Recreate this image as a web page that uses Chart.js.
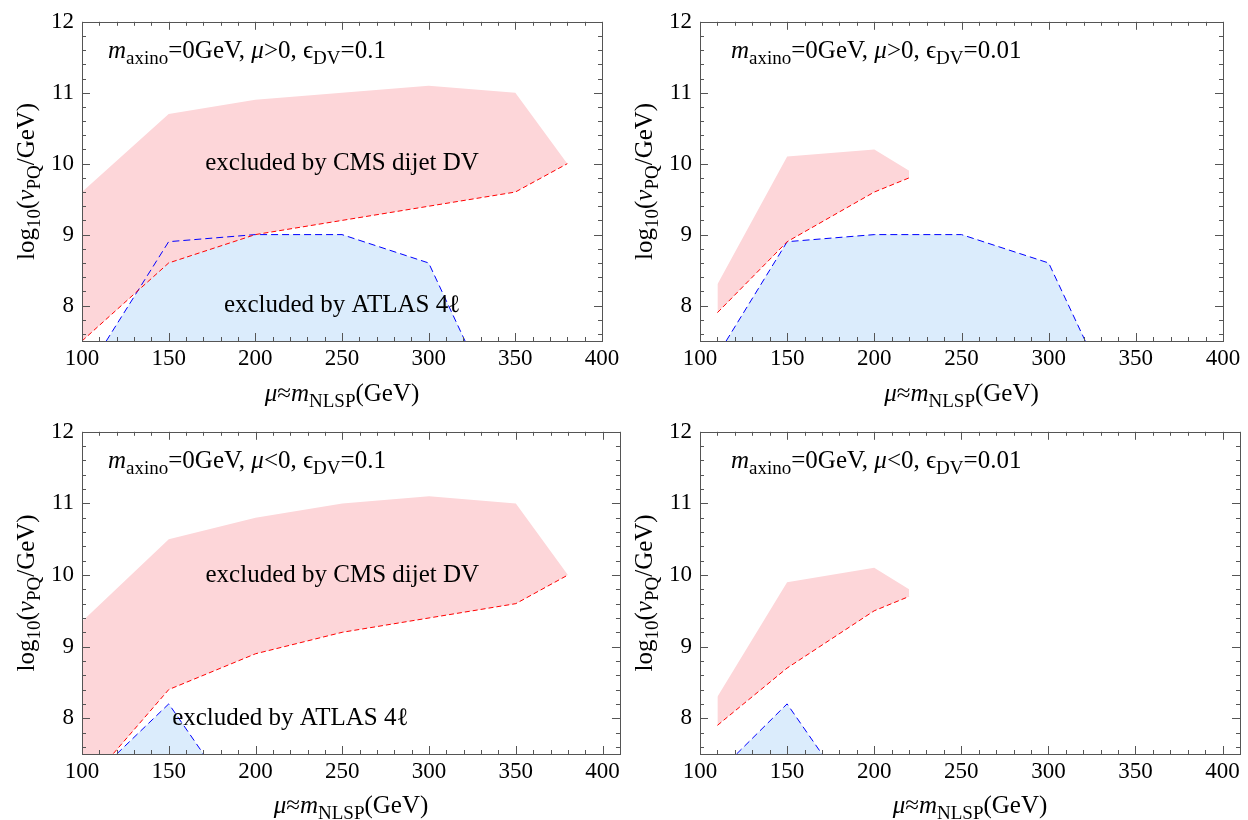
<!DOCTYPE html>
<html><head><meta charset="utf-8">
<script src="https://cdn.jsdelivr.net/npm/chart.js@4.4.1/dist/chart.umd.min.js"></script>
<style>
html,body{margin:0;padding:0;background:#fff;}
#wrap{position:relative;width:1248px;height:820px;overflow:hidden;}
canvas{position:absolute;}
</style></head><body><div id="wrap">
<canvas id="c0" width="624" height="410" style="left:0;top:0"></canvas>
<canvas id="c1" width="624" height="410" style="left:624px;top:0"></canvas>
<canvas id="c2" width="624" height="410" style="left:0;top:410px"></canvas>
<canvas id="c3" width="624" height="410" style="left:624px;top:410px"></canvas>
</div>
<script>
// ---- tick labels ----
const xTickLabels = [100, 150, 200, 250, 300, 350, 400];
const yTickLabels = [8, 9, 10, 11, 12];

// ---- Panel A: mu>0, eps=0.1 ----
const cmsUpperA_x = [100, 150, 200, 250, 300, 350, 380];
const cmsUpperA_y = [9.6, 10.7, 10.9, 11.0, 11.1, 11.0, 10.0];
const cmsLowerA_x = [100, 150, 200, 250, 300, 350, 380];
const cmsLowerA_y = [7.5, 8.6, 9.0, 9.2, 9.4, 9.6, 10.0];
const atlasA_x = [114, 150, 200, 250, 300, 321];
const atlasA_y = [7.5, 8.9, 9.0, 9.0, 8.6, 7.5];

// ---- Panel B: mu>0, eps=0.01 ----
const cmsUpperB_x = [110, 150, 200, 220];
const cmsUpperB_y = [8.3, 10.1, 10.2, 9.9];
const cmsLowerB_x = [110, 150, 200, 220];
const cmsLowerB_y = [7.9, 8.9, 9.6, 9.8];
const atlasB_x = [115, 150, 200, 250, 300, 321];
const atlasB_y = [7.5, 8.9, 9.0, 9.0, 8.6, 7.5];

// ---- Panel C: mu<0, eps=0.1 ----
const cmsUpperC_x = [100, 150, 200, 250, 300, 350, 380];
const cmsUpperC_y = [9.35, 10.5, 10.8, 11.0, 11.1, 11.0, 10.0];
const cmsLowerC_x = [100, 150, 200, 250, 300, 350, 380];
const cmsLowerC_y = [7.0, 8.4, 8.9, 9.2, 9.4, 9.6, 10.0];
const atlasC_x = [120, 150, 170];
const atlasC_y = [7.5, 8.2, 7.5];

// ---- Panel D: mu<0, eps=0.01 ----
const cmsUpperD_x = [110, 150, 200, 220];
const cmsUpperD_y = [8.3, 9.9, 10.1, 9.8];
const cmsLowerD_x = [110, 150, 200, 220];
const cmsLowerD_y = [7.9, 8.7, 9.5, 9.7];
const atlasD_x = [121, 150, 170];
const atlasD_y = [7.5, 8.2, 7.5];

// ---- annotation texts ----
const titleA = [['m','i'],['axino','s'],['=0GeV, ','n'],['\u03BC','i'],['>0, ','n'],['\u03F5','n'],['DV','s'],['=0.1','n']];
const titleB = [['m','i'],['axino','s'],['=0GeV, ','n'],['\u03BC','i'],['>0, ','n'],['\u03F5','n'],['DV','s'],['=0.01','n']];
const titleC = [['m','i'],['axino','s'],['=0GeV, ','n'],['\u03BC','i'],['<0, ','n'],['\u03F5','n'],['DV','s'],['=0.1','n']];
const titleD = [['m','i'],['axino','s'],['=0GeV, ','n'],['\u03BC','i'],['<0, ','n'],['\u03F5','n'],['DV','s'],['=0.01','n']];
const yTitle = [['log','n'],['10','s'],['(','n'],['\u03BD','i'],['PQ','s'],['/GeV)','n']];
const xTitle = [['\u03BC','i'],['\u2248','n'],['m','i'],['NLSP','s'],['(GeV)','n']];
const cmsLabel = 'excluded by CMS dijet DV';
const atlasLabel = 'excluded by ATLAS 4\u2113';

const FONT = '"Liberation Serif", "DejaVu Serif", serif';
const PINK = 'rgb(253,214,217)';
const LBLUE = 'rgb(219,236,252)';

function zip(xs, ys) { return xs.map((x, i) => ({x: x, y: ys[i]})); }

function fontFor(type, size) {
  const sub = type === 's';
  const it = type === 'i';
  const sz = sub ? Math.round(size * 0.76) : size;
  return (it ? 'italic ' : '') + sz + 'px ' + FONT;
}
function richWidth(ctx, parts, size) {
  let w = 0;
  for (const [t, ty] of parts) { ctx.font = fontFor(ty, size); w += ctx.measureText(t).width; }
  return w;
}
function drawRich(ctx, parts, x, y, size, align) {
  let cx = x;
  if (align === 'center') cx = x - richWidth(ctx, parts, size) / 2;
  ctx.textBaseline = 'alphabetic';
  ctx.textAlign = 'left';
  ctx.fillStyle = '#000';
  for (const [t, ty] of parts) {
    ctx.font = fontFor(ty, size);
    const dy = ty === 's' ? size * 0.24 : 0;
    ctx.fillText(t, cx, y + dy);
    cx += ctx.measureText(t).width;
  }
}

function makePanel(id, p) {
  const W = 624, H = 410;
  const decor = {
    id: 'decor' + id,
    afterDraw(chart) {
      const ctx = chart.ctx;
      const a = chart.chartArea;
      const xs = chart.scales.x, ys = chart.scales.y;
      ctx.save();
      // frame
      ctx.strokeStyle = '#555';
      ctx.lineWidth = 1;
      ctx.strokeRect(Math.round(a.left) + 0.5, Math.round(a.top) + 0.5, Math.round(a.right - a.left), Math.round(a.bottom - a.top));
      // ticks
      ctx.beginPath();
      for (let v = 100; v <= p.xmax; v += 10) {
        const px = Math.round(xs.getPixelForValue(v)) + 0.5;
        const len = (v % 50 === 0) ? 8 : 4;
        ctx.moveTo(px, a.bottom); ctx.lineTo(px, a.bottom - len);
        ctx.moveTo(px, a.top); ctx.lineTo(px, a.top + len);
      }
      for (let k = 38; k <= 60; k++) {
        const v = k / 5;
        const py = Math.round(ys.getPixelForValue(v)) + 0.5;
        const len = (k % 5 === 0) ? 8 : 4;
        ctx.moveTo(a.left, py); ctx.lineTo(a.left + len, py);
        ctx.moveTo(a.right, py); ctx.lineTo(a.right - len, py);
      }
      ctx.stroke();
      // panel annotation
      drawRich(ctx, p.title, a.left + p.titleDx, a.top + 36, 25, 'left');
      // region labels
      ctx.font = '25px ' + FONT;
      ctx.fillStyle = '#000';
      ctx.textAlign = 'center';
      ctx.textBaseline = 'middle';
      if (p.cmsPos) ctx.fillText(cmsLabel, xs.getPixelForValue(p.cmsPos[0]), ys.getPixelForValue(p.cmsPos[1]));
      if (p.atlasPos) ctx.fillText(atlasLabel, xs.getPixelForValue(p.atlasPos[0]), ys.getPixelForValue(p.atlasPos[1]));
      // axis titles
      drawRich(ctx, xTitle, (a.left + a.right) / 2, p.xTitleY, 25, 'center');
      ctx.save();
      ctx.translate(a.left - 48, (a.top + a.bottom) / 2);
      ctx.rotate(-Math.PI / 2);
      drawRich(ctx, yTitle, 0, 0, 25, 'center');
      ctx.restore();
      ctx.restore();
    }
  };
  return new Chart(document.getElementById(id), {
    type: 'line',
    data: {
      datasets: [
        { data: zip(p.up[0], p.up[1]), borderWidth: 0, borderColor: 'rgba(0,0,0,0)', backgroundColor: PINK, fill: '+1', pointRadius: 0, tension: 0, order: 4 },
        { data: zip(p.lo[0], p.lo[1]), borderWidth: 1, borderColor: 'rgb(255,0,0)', borderDash: [5, 3], fill: false, pointRadius: 0, tension: 0, order: 1 },
        { data: zip(p.at[0], p.at[1]), borderWidth: 0, borderColor: 'rgba(0,0,0,0)', backgroundColor: LBLUE, fill: 'start', pointRadius: 0, tension: 0, order: 5 },
        { data: zip(p.at[0], p.at[1]), borderWidth: 1, borderColor: 'rgb(0,0,255)', borderDash: [7, 4], fill: false, pointRadius: 0, tension: 0, order: 2 }
      ]
    },
    options: {
      responsive: false,
      animation: false,
      devicePixelRatio: 1,
      layout: { padding: { left: 0, top: p.top, right: W - p.right, bottom: 0 } },
      plugins: { legend: { display: false }, tooltip: { enabled: false } },
      elements: { line: { borderCapStyle: 'butt' } },
      scales: {
        x: {
          type: 'linear', min: 100, max: p.xmax,
          grid: { display: false, drawTicks: false },
          border: { display: false },
          ticks: { autoSkip: false, maxRotation: 0, padding: 4, color: '#000', font: { family: FONT, size: 23 } },
          afterBuildTicks: (ax) => { ax.ticks = xTickLabels.map(v => ({ value: v })); },
          afterFit: (ax) => { ax.height = H - p.bottom; }
        },
        y: {
          type: 'linear', min: 7.5, max: 12,
          grid: { display: false, drawTicks: false },
          border: { display: false },
          ticks: { autoSkip: false, padding: 8, color: '#000', font: { family: FONT, size: 23 } },
          afterBuildTicks: (ax) => { ax.ticks = yTickLabels.map(v => ({ value: v })); },
          afterFit: (ax) => { ax.width = p.left; }
        }
      }
    },
    plugins: [decor]
  });
}

makePanel('c0', { left: 82, right: 602, top: 19, bottom: 341, xmax: 400, title: titleA, titleDx: 26, xTitleY: 401,
  up: [cmsUpperA_x, cmsUpperA_y], lo: [cmsLowerA_x, cmsLowerA_y], at: [atlasA_x, atlasA_y], cmsPos: [250, 10.0], atlasPos: [250, 8.0] });
makePanel('c1', { left: 76, right: 599, top: 19, bottom: 341, xmax: 400, title: titleB, titleDx: 31, xTitleY: 401,
  up: [cmsUpperB_x, cmsUpperB_y], lo: [cmsLowerB_x, cmsLowerB_y], at: [atlasB_x, atlasB_y] });
makePanel('c2', { left: 82, right: 620, top: 13, bottom: 344, xmax: 410, title: titleC, titleDx: 26, xTitleY: 403,
  up: [cmsUpperC_x, cmsUpperC_y], lo: [cmsLowerC_x, cmsLowerC_y], at: [atlasC_x, atlasC_y], cmsPos: [250, 10.0], atlasPos: [220, 8.0] });
makePanel('c3', { left: 76, right: 616, top: 13, bottom: 344, xmax: 410, title: titleD, titleDx: 31, xTitleY: 403,
  up: [cmsUpperD_x, cmsUpperD_y], lo: [cmsLowerD_x, cmsLowerD_y], at: [atlasD_x, atlasD_y] });
</script></body></html>
